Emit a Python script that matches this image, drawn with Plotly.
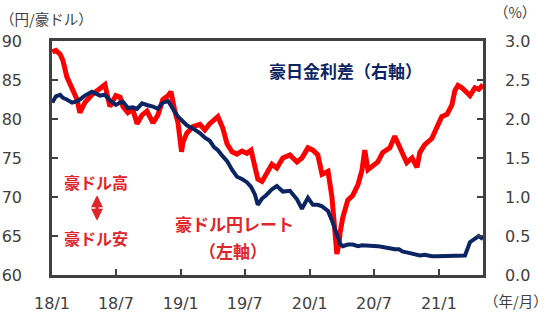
import plotly.graph_objects as go

dates = ["2018-01-02","2018-01-12","2018-01-24","2018-02-01","2018-02-12","2018-02-27","2018-03-13","2018-03-21","2018-04-04","2018-04-24",
         "2018-05-17","2018-05-31","2018-06-14","2018-07-01","2018-07-13","2018-07-21","2018-08-04","2018-08-18","2018-08-30","2018-09-13",
         "2018-09-27","2018-10-14","2018-10-28","2018-11-11","2018-11-26","2018-12-04","2018-12-15","2018-12-24",
         "2019-01-03","2019-01-07","2019-01-18","2019-02-04","2019-02-24","2019-03-10","2019-03-24","2019-04-05","2019-04-16","2019-04-30",
         "2019-05-12","2019-05-26","2019-06-09","2019-06-23","2019-07-07","2019-07-19","2019-07-30","2019-08-07","2019-08-19","2019-08-30",
         "2019-09-16","2019-09-30","2019-10-17","2019-11-06","2019-11-26","2019-12-10","2019-12-27",
         "2020-01-10","2020-01-24","2020-02-05","2020-02-22","2020-03-04","2020-03-12","2020-03-18","2020-03-24","2020-03-27","2020-04-04",
         "2020-04-18","2020-05-02","2020-05-17","2020-05-28","2020-06-05","2020-06-14","2020-06-28","2020-07-12","2020-07-26","2020-08-15",
         "2020-08-29","2020-09-10","2020-09-21","2020-10-02","2020-10-17","2020-10-31","2020-11-08","2020-11-22","2020-12-12","2020-12-26",
         "2021-01-09","2021-01-24","2021-02-07","2021-02-15","2021-02-24","2021-03-07","2021-03-16","2021-03-30","2021-04-13","2021-04-24",
         "2021-05-06"]

audjpy = [88.6, 88.8, 88.3, 87.5, 85.4, 83.7, 82.5, 80.8, 82.1, 83.1,
          84.0, 84.4, 81.6, 83.0, 82.8, 81.6, 80.8, 81.2, 79.4, 80.5,
          81.0, 79.5, 80.5, 82.5, 83.0, 83.5, 81.0, 79.5,
          75.8, 77.0, 78.2, 79.0, 79.3, 78.6, 79.4, 79.8, 80.3, 78.8,
          76.8, 75.8, 75.5, 75.9, 75.6, 76.0, 74.0, 72.3, 72.0, 72.8,
          74.2, 73.7, 75.0, 75.4, 74.5, 75.0, 76.3,
          76.0, 75.4, 72.9, 73.3, 70.0, 65.7, 62.7, 64.0, 65.4, 67.4,
          69.6, 70.2, 71.6, 73.4, 76.0, 73.5, 74.0, 74.5, 75.7, 76.3,
          77.8, 76.7, 75.4, 74.4, 75.0, 73.8, 75.7, 76.7, 77.5, 78.9,
          80.3, 80.6, 81.8, 83.6, 84.3, 84.0, 83.6, 83.0, 84.0, 83.8,
          84.4]

spread = [2.21, 2.29, 2.31, 2.27, 2.25, 2.21, 2.23, 2.25, 2.30, 2.35,
          2.30, 2.31, 2.24, 2.18, 2.21, 2.22, 2.14, 2.15, 2.13, 2.20,
          2.18, 2.16, 2.13, 2.21, 2.23, 2.16, 2.09, 2.03,
          1.99, 1.96, 1.92, 1.88, 1.82, 1.76, 1.72, 1.64, 1.60, 1.52,
          1.46, 1.35, 1.26, 1.23, 1.19, 1.13, 1.03, 0.90, 0.98, 1.02,
          1.10, 1.14, 1.07, 1.08, 0.97, 0.85, 0.99,
          0.90, 0.90, 0.88, 0.82, 0.70, 0.58, 0.52, 0.45, 0.40, 0.37,
          0.39, 0.39, 0.37, 0.38, 0.38, 0.38, 0.38, 0.37, 0.36, 0.34,
          0.33, 0.33, 0.30, 0.29, 0.27, 0.25, 0.25, 0.26, 0.24, 0.24,
          0.24, 0.24, 0.24, 0.24, 0.24, 0.24, 0.25, 0.42, 0.46, 0.50,
          0.46]

x_tickvals = ["2018-01-01", "2018-07-01", "2019-01-01", "2019-07-01", "2020-01-01", "2020-07-01", "2021-01-01"]
x_ticktext = ["18/1", "18/7", "19/1", "19/7", "20/1", "20/7", "21/1"]
x_range = ["2018-01-01", "2021-05-06"]

RED = "#FF0000"
NAVY = "#0B2563"
TXT_RED = "#E0262B"
AX = "#404040"
TICKFONT = dict(family="DejaVu Sans", size=16, color=AX)
JP = "Noto Sans CJK JP"

fig = go.Figure()
fig.add_trace(go.Scatter(x=dates, y=audjpy, mode="lines", line=dict(color=RED, width=5), yaxis="y", showlegend=False))
fig.add_trace(go.Scatter(x=dates, y=spread, mode="lines", line=dict(color=NAVY, width=4), yaxis="y2", showlegend=False))

fig.update_layout(
    width=550, height=313,
    margin=dict(l=52, r=67, t=41, b=38, autoexpand=False),
    paper_bgcolor="white", plot_bgcolor="white",
    showlegend=False,
    xaxis=dict(type="date", range=x_range, tickvals=x_tickvals, ticktext=x_ticktext, automargin=False,
               showgrid=False, zeroline=False, showline=True, linecolor=AX, linewidth=2.5, mirror=True,
               ticks="inside", ticklen=6, tickwidth=2, tickcolor=AX, tickfont=TICKFONT, ticklabelstandoff=12),
    yaxis=dict(range=[60, 90], dtick=5, tick0=60, showgrid=False, zeroline=False, automargin=False,
               showline=True, linecolor=AX, linewidth=2.5,
               ticks="inside", ticklen=6, tickwidth=2, tickcolor=AX, tickfont=TICKFONT, ticklabelstandoff=24),
    yaxis2=dict(range=[0, 3], dtick=0.5, tick0=0, tickformat=".1f", overlaying="y", side="right", automargin=False,
                showgrid=False, zeroline=False, showline=True, linecolor=AX, linewidth=2.5,
                ticks="inside", ticklen=6, tickwidth=2, tickcolor=AX, tickfont=TICKFONT, ticklabelstandoff=16),
)

def ann(text, x, y, size, color, bold=False, xanchor="center", yanchor="middle", family=JP):
    t = f"<b>{text}</b>" if bold else text
    fig.add_annotation(text=t, x=x, y=y, xref="paper", yref="paper", showarrow=False,
                       xanchor=xanchor, yanchor=yanchor, font=dict(family=family, size=size, color=color))

ann("（円/豪ドル）", -0.125, 1.098, 14.5, AX, xanchor="left")
ann("（%）", 1.074, 1.124, 14.5, AX)
ann("（年/月）", 1.077, -0.107, 14.5, AX)
ann("豪日金利差（右軸）", 0.499, 0.876, 17, NAVY, bold=True, xanchor="left")
ann("豪ドル円レート", 0.4234, 0.222, 17, TXT_RED, bold=True)
ann("（左軸）", 0.42, 0.103, 17, TXT_RED, bold=True)
ann("豪ドル高", 0.1032, 0.397, 16, TXT_RED, bold=True)
ann("豪ドル安", 0.1032, 0.158, 16, TXT_RED, bold=True)

# double-headed arrow between the two labels
fig.add_annotation(x=0.1044, y=0.232, xref="paper", yref="paper", ax=0, ay=-27,
                   showarrow=True, arrowhead=2, arrowside="end+start", arrowsize=0.75, arrowwidth=3.2,
                   startarrowhead=2, startarrowsize=0.75, standoff=0, startstandoff=0,
                   arrowcolor=TXT_RED, text="")

fig.write_html("out.html")
